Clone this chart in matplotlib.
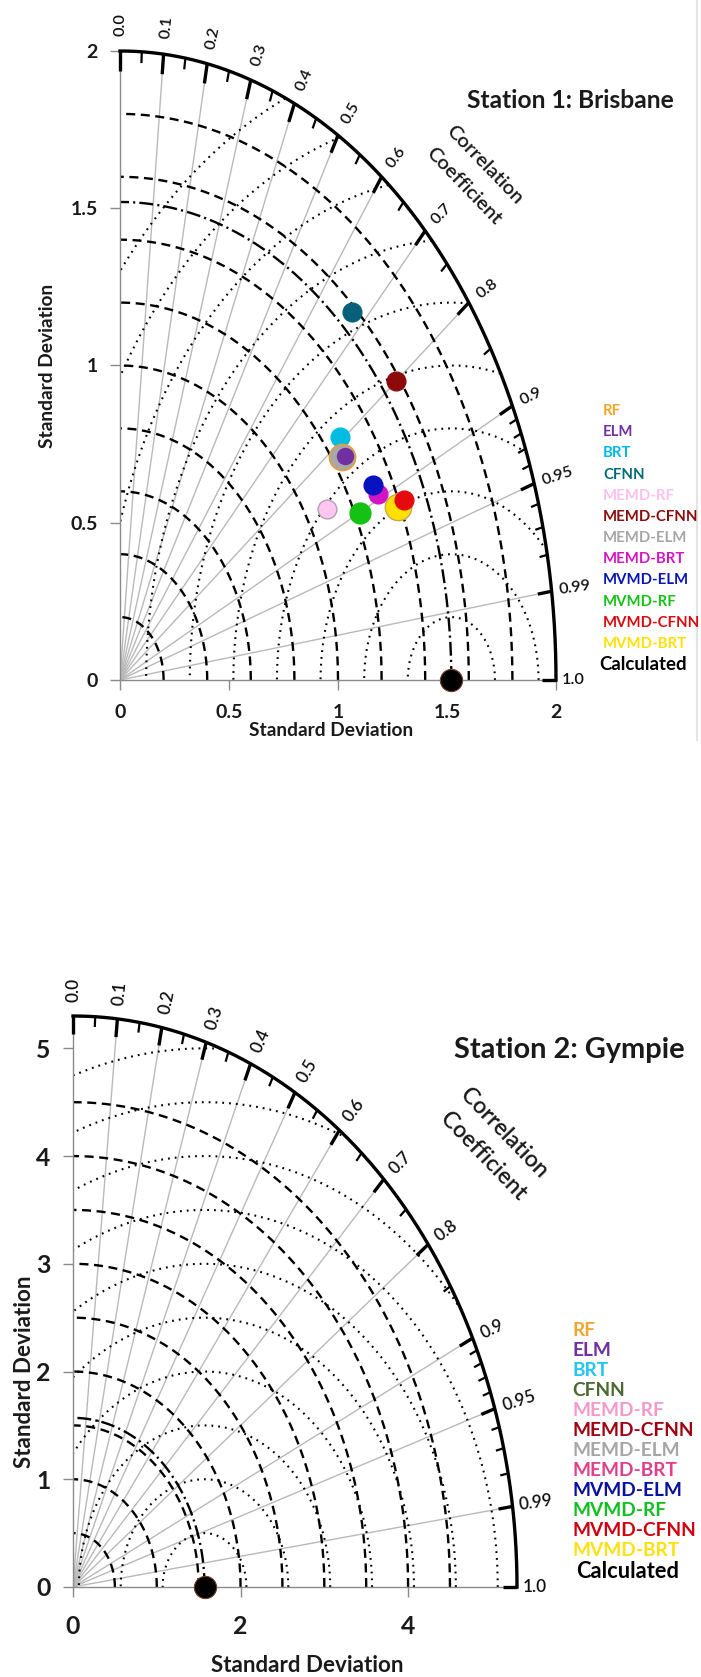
# Taylor diagrams for two stations
import numpy as np
import matplotlib
matplotlib.use('Agg')
import matplotlib.pyplot as plt
from matplotlib.lines import Line2D

plt.rcParams['font.family'] = ['Lato', 'DejaVu Sans']
plt.rcParams['lines.scale_dashes'] = False

# ---- data ----
models = ['RF', 'ELM', 'BRT', 'CFNN', 'MEMD-RF', 'MEMD-CFNN', 'MEMD-ELM',
          'MEMD-BRT', 'MVMD-ELM', 'MVMD-RF', 'MVMD-CFNN', 'MVMD-BRT']

# Station 1: Brisbane, standard deviation and correlation of each model
bris_ref_std = 1.52
bris_std = [1.243, 1.254, 1.272, 1.582, 1.096, 1.583, 1.243,
            1.324, 1.318, 1.222, 1.422, 1.391]
bris_corr = [0.821, 0.823, 0.795, 0.672, 0.868, 0.800, 0.821,
             0.895, 0.882, 0.901, 0.915, 0.918]

# Station 2: Gympie, only the calculated point shows
gym_ref_std = 1.57

corr_major = [0.0, 0.1, 0.2, 0.3, 0.4, 0.5, 0.6, 0.7, 0.8, 0.9, 0.95, 0.99, 1.0]
corr_labels = ['0.0', '0.1', '0.2', '0.3', '0.4', '0.5', '0.6', '0.7', '0.8',
               '0.9', '0.95', '0.99', '1.0']
corr_minor = [0.05, 0.15, 0.25, 0.35, 0.45, 0.55, 0.65, 0.75, 0.85,
              0.91, 0.92, 0.93, 0.94, 0.96, 0.97, 0.98]
corr_grid = [0.1, 0.2, 0.3, 0.4, 0.5, 0.6, 0.7, 0.8, 0.9, 0.95, 0.99]

bris_sd_rings = [0.2, 0.4, 0.6, 0.8, 1.0, 1.2, 1.4, 1.6, 1.8]
bris_rms_rings = [0.2, 0.4, 0.6, 0.8, 1.0, 1.2, 1.4, 1.6, 1.8, 2.0]
bris_ticks = [0, 0.5, 1, 1.5, 2]

gym_sd_rings = [0.5, 1.0, 1.5, 2.0, 2.5, 3.0, 3.5, 4.0, 4.5]
gym_rms_rings = [0.5, 1.0, 1.5, 2.0, 2.5, 3.0, 3.5, 4.0, 4.5, 5.0, 5.5]
gym_xticks = [0, 2, 4]
gym_yticks = [0, 1, 2, 3, 4, 5]

# ---- styles ----
bris_marker_col = {'RF': '#e9a43a', 'ELM': '#7030a0', 'BRT': '#00bce2',
                   'CFNN': '#07607a', 'MEMD-RF': '#ffc6f2', 'MEMD-CFNN': '#8c0a0a',
                   'MEMD-ELM': '#a8a8a8', 'MEMD-BRT': '#d214c4', 'MVMD-ELM': '#0812c0',
                   'MVMD-RF': '#14c214', 'MVMD-CFNN': '#e40a10', 'MVMD-BRT': '#ffe000'}
bris_marker_edge = {'MEMD-RF': '#b0a0b0', 'MVMD-BRT': '#c8a848', 'RF': '#e0a040'}
bris_marker_size = {'RF': 19, 'MEMD-ELM': 16.5, 'ELM': 11.5, 'MVMD-BRT': 19,
                    'MVMD-RF': 15}
draw_order = ['BRT', 'RF', 'MEMD-ELM', 'ELM', 'CFNN', 'MEMD-RF', 'MEMD-CFNN',
              'MEMD-BRT', 'MVMD-ELM', 'MVMD-RF', 'MVMD-BRT', 'MVMD-CFNN']

bris_legend_col = ['#f5a623', '#7030a0', '#00b8e6', '#006b78', '#ffbff0', '#8b0a0a',
                   '#a6a6a6', '#d214c4', '#0a14b4', '#14c214', '#d80a10', '#ffe000']
gym_legend_col = ['#f2a630', '#7030a0', '#22c6f0', '#4a6a30', '#f49ac8', '#a00010',
                  '#a6a6a6', '#e0408a', '#0a10a0', '#10c020', '#d00010', '#ffe010']

W, H = 701, 1677
fig = plt.figure(figsize=(W / 100, H / 100), dpi=100)
renderer = fig.canvas.get_renderer()


def fit_size(s, width_px, weight='bold'):
    # font size that makes the string about width_px wide
    t = fig.text(0, 0, s, fontsize=10, fontweight=weight)
    w = t.get_window_extent(renderer).width
    t.remove()
    return 10 * width_px / w


def px_axes(x0, y0, x1, y1):
    # origin pixel (x0, y0), top right pixel (x1, y1)
    return fig.add_axes([x0 / W, 1 - y0 / H, (x1 - x0) / W, (y0 - y1) / H])


def ftext(x, y, s, **kw):
    fig.text(x / W, 1 - y / H, s, **kw)


def taylor(ax, smax, ref, sd_rings, rms_rings, xticks, yticks, tick_fs, corr_fs,
           xpad, ypad, lab_gap):
    ax.set_xlim(0, smax)
    ax.set_ylim(0, smax)
    ax.set_facecolor('none')
    for s in ['top', 'right']:
        ax.spines[s].set_visible(False)
    for s in ['left', 'bottom']:
        ax.spines[s].set_color('#8a8a8a')
        ax.spines[s].set_linewidth(1.0)
    ax.set_xticks(xticks)
    ax.set_yticks(yticks)
    ax.set_xticklabels(['%g' % v for v in xticks], fontweight='bold')
    ax.set_yticklabels(['%g' % v for v in yticks], fontweight='bold')
    ax.tick_params(axis='both', direction='out', length=7, width=1, color='#8a8a8a',
                   labelsize=tick_fs, labelcolor='#1a1a1a')
    ax.tick_params(axis='x', pad=xpad)
    ax.tick_params(axis='y', pad=ypad)

    t = np.linspace(0, np.pi / 2, 500)
    # correlation rays
    for c in corr_grid:
        a = np.arccos(c)
        ax.plot([0, smax * np.cos(a)], [0, smax * np.sin(a)], color='#b9b9b9', lw=1.0,
                zorder=1)
    # standard deviation rings
    for r in sd_rings:
        ax.plot(r * np.cos(t), r * np.sin(t), color='k', lw=1.7, dashes=(6.5, 4), zorder=2)
    # reference ring
    ax.plot(ref * np.cos(t), ref * np.sin(t), color='k', lw=1.7, dashes=(10, 3, 1.5, 3),
            zorder=2)
    # centred RMS rings around the reference point
    tt = np.linspace(0, np.pi, 1500)
    for r in rms_rings:
        x = ref + r * np.cos(tt)
        y = r * np.sin(tt)
        m = (x >= 0) & (x ** 2 + y ** 2 <= smax ** 2)
        ax.plot(np.where(m, x, np.nan), np.where(m, y, np.nan), color='k', lw=1.5,
                dashes=(1.3, 3.6), zorder=2)
    # outer arc
    ax.plot(smax * np.cos(t), smax * np.sin(t), color='k', lw=2.4, clip_on=False, zorder=4)
    # correlation ticks
    for c in corr_major:
        a = np.arccos(c)
        L = 0.032 * smax
        ax.plot([smax * np.cos(a), (smax - L) * np.cos(a)],
                [smax * np.sin(a), (smax - L) * np.sin(a)], color='k', lw=2.4,
                solid_capstyle='butt', clip_on=False, zorder=4)
    for c in corr_minor:
        a = np.arccos(c)
        L = 0.018 * smax
        ax.plot([smax * np.cos(a), (smax - L) * np.cos(a)],
                [smax * np.sin(a), (smax - L) * np.sin(a)], color='k', lw=1.6,
                solid_capstyle='butt', clip_on=False, zorder=4)
    for c, lab in zip(corr_major, corr_labels):
        a = np.arccos(c)
        off = lab_gap[0] + lab_gap[1] * np.sin(a)
        ax.annotate(lab, (smax * np.cos(a), smax * np.sin(a)),
                    xytext=(off * np.cos(a), off * np.sin(a)), textcoords='offset points',
                    rotation=np.degrees(a), rotation_mode='anchor', ha='left',
                    va='center', fontsize=corr_fs, fontweight='semibold', color='#111111',
                    annotation_clip=False)
    # calculated point
    ax.plot(ref, 0, 'o', ms=16, mfc='k', mec='#7a3a20', mew=0.8, clip_on=False, zorder=6)


# ---------- Station 1: Brisbane ----------
ax1 = px_axes(120, 680, 556, 51)
taylor(ax1, 2.0, bris_ref_std, bris_sd_rings, bris_rms_rings, bris_ticks, bris_ticks,
       fit_size('1.5', 27), fit_size('0.95', 32, 'semibold'), 10, 9, (4, 7))
for k, name in enumerate(draw_order):
    i = models.index(name)
    s, c = bris_std[i], bris_corr[i]
    ax1.plot(s * c, s * np.sqrt(1 - c ** 2), 'o', ms=bris_marker_size.get(name, 13.5),
             mfc=bris_marker_col[name], mec=bris_marker_edge.get(name, bris_marker_col[name]),
             mew=1.0, zorder=5 + k * 0.01)

ftext(570, 100, 'Station 1: Brisbane', fontsize=fit_size('Station 1: Brisbane', 207),
      fontweight='bold', ha='center', va='center', color='#1a1a1a')
cc1 = fit_size('Correlation', 102, 'semibold')
ftext(484, 165, 'Correlation', fontsize=cc1, fontweight='semibold', rotation=-46,
      ha='center', va='center', rotation_mode='anchor', color='#1a1a1a')
ftext(464, 186, 'Coefficient', fontsize=cc1, fontweight='semibold', rotation=-46,
      ha='center', va='center', rotation_mode='anchor', color='#1a1a1a')
sd1 = fit_size('Standard Deviation', 165)
ftext(331, 731, 'Standard Deviation', fontsize=sd1, fontweight='bold', ha='center',
      va='center', color='#1a1a1a')
ftext(48, 366, 'Standard Deviation', fontsize=sd1, fontweight='bold', ha='center',
      va='center', rotation=90, color='#1a1a1a')

lg1 = fit_size('MEMD-CFNN', 95)
leg_y = np.linspace(411, 644, len(models))
for name, col, y in zip(models, bris_legend_col, leg_y):
    ftext(603, y, name, fontsize=lg1, fontweight='bold', color=col, ha='left', va='center')
ftext(599, 665, 'Calculated', fontsize=fit_size('Calculated', 88), fontweight='bold',
      color='k', ha='left', va='center')

# ---------- Station 2: Gympie ----------
ax2 = px_axes(73, 1587, 517, 1016)
taylor(ax2, 5.3, gym_ref_std, gym_sd_rings, gym_rms_rings, gym_xticks, gym_yticks,
       fit_size('4', 14.5), fit_size('0.95', 34, 'semibold'), 13, 9, (4, 6))

ftext(569, 1050, 'Station 2: Gympie', fontsize=fit_size('Station 2: Gympie', 231),
      fontweight='bold', ha='center', va='center', color='#1a1a1a')
cc2 = fit_size('Correlation', 116, 'semibold')
ftext(504, 1133, 'Correlation', fontsize=cc2, fontweight='semibold', rotation=-46,
      ha='center', va='center', rotation_mode='anchor', color='#1a1a1a')
ftext(483, 1156, 'Coefficient', fontsize=cc2, fontweight='semibold', rotation=-46,
      ha='center', va='center', rotation_mode='anchor', color='#1a1a1a')
sd2 = fit_size('Standard Deviation', 193)
ftext(307, 1665, 'Standard Deviation', fontsize=sd2, fontweight='bold', ha='center',
      va='center', color='#1a1a1a')
ftext(25, 1372, 'Standard Deviation', fontsize=sd2, fontweight='bold', ha='center',
      va='center', rotation=90, color='#1a1a1a')

lg2 = fit_size('MEMD-CFNN', 122)
leg_y2 = np.linspace(1330, 1551, len(models))
for name, col, y in zip(models, gym_legend_col, leg_y2):
    ftext(572, y, name, fontsize=lg2, fontweight='bold', color=col, ha='left', va='center')
ftext(576, 1572, 'Calculated', fontsize=fit_size('Calculated', 103), fontweight='bold',
      color='k', ha='left', va='center')

# faint frame line on the right of the first panel
fig.add_artist(Line2D([697 / W, 697 / W], [1, 1 - 740 / H], color='#e4e4e4', lw=1.5,
                      transform=fig.transFigure))

fig.savefig('out.png', dpi=100)
